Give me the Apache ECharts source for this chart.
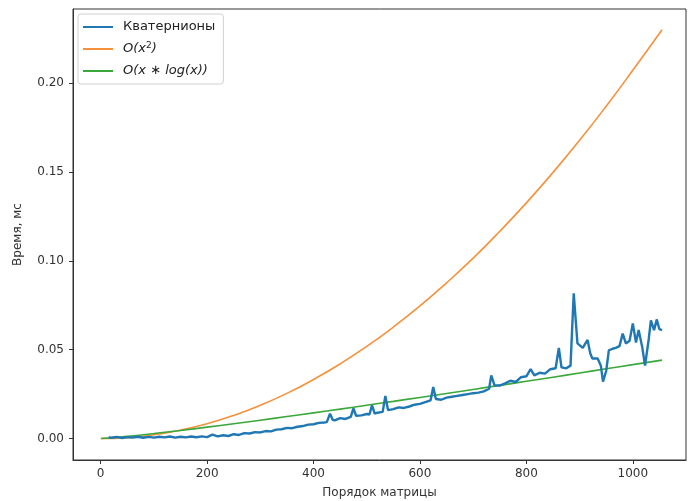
<!DOCTYPE html>
<html>
<head>
<meta charset="utf-8">
<script src="https://cdn.jsdelivr.net/npm/echarts@6/dist/echarts.min.js"></script>
<style>html,body{margin:0;padding:0;background:#fff}#c{width:695px;height:501px}</style>
</head>
<body>
<div id="c"></div>
<script>
const quatX = [15,20,30,40,50,60,70,80,90,100,110,120,130,140,150,160,170,180,190,200,210,220,230,240,250,260,270,280,290,300,310,320,330,340,350,360,370,380,390,400,410,420,425,431,436,440,450,460,470,475,480,490,500,505,510,515,520,530,535,540,550,560,570,580,590,600,610,620,625,630,640,650,660,670,680,690,700,710,720,730,734,740,750,760,770,780,790,800,808,815,825,835,845,855,861,866,875,883,889,896,906,915,920,924,934,940,944,950,955,962,968,975,981,987,994,1000,1006,1011,1018,1023,1030,1034,1040,1045,1050,1055];
const quatY = [0.0008,0.0004,0.0009,0.0003,0.0008,0.0005,0.0010,0.0004,0.0009,0.0005,0.0010,0.0006,0.0011,0.0005,0.0010,0.0006,0.0011,0.0007,0.0012,0.0008,0.0022,0.0012,0.0018,0.0014,0.0024,0.0020,0.0030,0.0028,0.0036,0.0034,0.0042,0.0040,0.0050,0.0052,0.0060,0.0058,0.0066,0.0070,0.0078,0.0080,0.0088,0.0090,0.0092,0.0140,0.0105,0.0102,0.0115,0.0110,0.0122,0.0170,0.0128,0.0130,0.0138,0.0135,0.0186,0.0140,0.0145,0.0150,0.0240,0.0160,0.0165,0.0175,0.0172,0.0180,0.0190,0.0195,0.0205,0.0215,0.0290,0.0222,0.0218,0.0230,0.0235,0.0240,0.0245,0.0250,0.0255,0.0258,0.0265,0.0280,0.0355,0.0300,0.0298,0.0310,0.0325,0.0318,0.0345,0.0350,0.0390,0.0355,0.0370,0.0365,0.0390,0.0395,0.0510,0.0400,0.0395,0.0410,0.0817,0.0535,0.0510,0.0555,0.0480,0.0450,0.0450,0.0410,0.0320,0.0380,0.0496,0.0505,0.0510,0.0520,0.0590,0.0535,0.0550,0.0648,0.0540,0.0610,0.0510,0.0410,0.0560,0.0665,0.0610,0.0670,0.0615,0.0610];
const sqX = [0,50,100,150,200,250,300,350,400,450,500,550,600,650,700,750,800,850,900,950,1000,1055];
const sqY = [0,0.0005,0.0021,0.0047,0.0083,0.0130,0.0187,0.0254,0.0332,0.0420,0.0518,0.0627,0.0746,0.0876,0.1015,0.1166,0.1326,0.1497,0.1678,0.1870,0.2072,0.2300];
const nlX = [1,50,100,150,200,250,300,350,400,450,500,550,600,650,700,750,800,850,900,950,1000,1055];
const nlY = [0,0.00118,0.00277,0.00452,0.00638,0.00831,0.0103,0.01234,0.01443,0.01655,0.01871,0.02089,0.02311,0.02534,0.02761,0.02989,0.03219,0.03451,0.03685,0.03922,0.04158,0.04411];
const xTicks = [0,200,400,600,800,1000];
const yTicks = [0,0.05,0.10,0.15,0.20];
const names = ['Кватернионы','O(x2)','O(x*log(x))'];
const colors = ['#1f77b4','#f5913a','#3aa83a'];

const zip = (a,b) => a.map((v,i)=>[v,b[i]]);
const font = 'DejaVu Sans';
const chart = echarts.init(document.getElementById('c'), null, {renderer:'canvas'});
chart.setOption({
  animation:false,
  backgroundColor:'#fff',
  grid:{left:73,right:9,top:9,bottom:41,outerBoundsMode:'none',containLabel:false,show:true,borderColor:'#333',borderWidth:1,backgroundColor:'transparent'},
  legend:{
    orient:'vertical', left:78, top:14,
    padding:[5,8,5,5], itemGap:6, itemWidth:30, itemHeight:2,
    icon:'rect',
    borderColor:'#d0d0d0', borderWidth:1, borderRadius:3,
    textStyle:{fontFamily:font,fontSize:13,color:'#222',lineHeight:16,padding:[0,0,0,5],
      rich:{i:{fontFamily:font,fontSize:13,fontStyle:'italic',color:'#222',lineHeight:16},
            s:{fontFamily:font,fontSize:9,fontStyle:'normal',color:'#222',verticalAlign:'top',lineHeight:16,padding:[0,0,6,0]}}},
    formatter:function(n){
      if(n===names[1]) return '{i|O(x}{s|2}{i|)}';
      if(n===names[2]) return '{i|O(x ∗ log(x))}';
      return n;
    },
    data:names.map((n,i)=>({name:n,itemStyle:{color:colors[i]}}))
  },
  xAxis:{
    type:'value', min:-52, max:1100,
    name:'Порядок матрицы', nameLocation:'middle', nameGap:27,
    nameTextStyle:{fontFamily:font,fontSize:12,color:'#333'},
    axisLine:{show:true,onZero:false,lineStyle:{color:'#333',width:1}},
    axisTick:{show:true,length:4,customValues:xTicks,lineStyle:{color:'#333'}},
    axisLabel:{customValues:xTicks,fontFamily:font,fontSize:12,color:'#333',margin:8,formatter:v=>String(v)},
    splitLine:{show:false}
  },
  yAxis:{
    type:'value', min:-0.0121, max:0.2417,
    name:'Время, мс', nameLocation:'middle', nameGap:49, nameRotate:90,
    nameTextStyle:{fontFamily:font,fontSize:12,color:'#333'},
    axisLine:{show:true,onZero:false,lineStyle:{color:'#333',width:1}},
    axisTick:{show:true,length:4,customValues:yTicks,lineStyle:{color:'#333'}},
    axisLabel:{customValues:yTicks,fontFamily:font,fontSize:12,color:'#333',margin:9,formatter:v=>v.toFixed(2)},
    splitLine:{show:false}
  },
  series:[
    {name:names[0],type:'line',symbol:'none',data:zip(quatX,quatY),lineStyle:{color:colors[0],width:2.4},itemStyle:{color:colors[0]},z:3},
    {name:names[1],type:'line',symbol:'none',smooth:true,data:zip(sqX,sqY),lineStyle:{color:colors[1],width:1.6},itemStyle:{color:colors[1]},z:2},
    {name:names[2],type:'line',symbol:'none',smooth:true,data:zip(nlX,nlY),lineStyle:{color:colors[2],width:1.6},itemStyle:{color:colors[2]},z:2}
  ]
});
</script>
</body>
</html>
